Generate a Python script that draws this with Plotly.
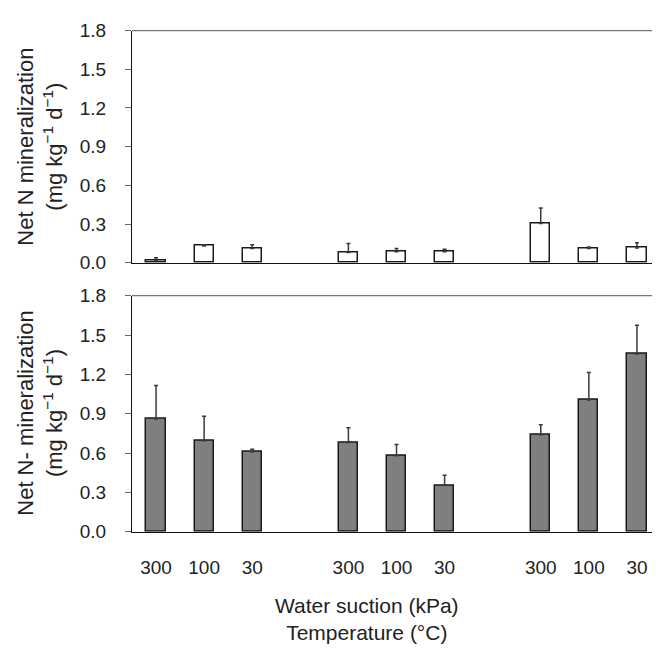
import plotly.graph_objects as go
from plotly.subplots import make_subplots

# Data -----------------------------------------------------------
suction = ["300", "100", "30"]          # water suction (kPa), repeated per temperature group
n_groups = 3

top_mean = [0.02, 0.13, 0.11, 0.08, 0.085, 0.085, 0.305, 0.11, 0.115]
top_err = [0.02, 0.01, 0.03, 0.07, 0.025, 0.02, 0.12, 0.012, 0.04]

bot_mean = [0.86, 0.695, 0.61, 0.68, 0.58, 0.355, 0.74, 1.005, 1.355]
bot_err = [0.255, 0.185, 0.02, 0.113, 0.085, 0.076, 0.076, 0.21, 0.22]

# Layout helpers -------------------------------------------------
W, H = 660, 648
FONT = "Liberation Sans, Arial, sans-serif"
TXT = "#222222"

# one empty slot between temperature groups
xpos = [g * (len(suction) + 1) + j for g in range(n_groups) for j in range(len(suction))]
xlabels = suction * n_groups


def px_x(p):
    return p / W


def px_y(p):
    return 1 - p / H


fig = make_subplots(rows=2, cols=1)

bar_style = dict(width=0.4, marker_line_color="#1a1a1a", marker_line_width=1.5, showlegend=False)
err_style = dict(type="data", symmetric=False, color="#3a3a3a", thickness=1.5, width=2)

fig.add_trace(go.Bar(x=xpos, y=top_mean, marker_color="white",
                     error_y=dict(array=top_err, arrayminus=[0] * len(top_err), **err_style),
                     **bar_style), row=1, col=1)
fig.add_trace(go.Bar(x=xpos, y=bot_mean, marker_color="#7f7f80",
                     error_y=dict(array=bot_err, arrayminus=[0] * len(bot_err), **err_style),
                     **bar_style), row=2, col=1)

xdom = [px_x(124), px_x(653)]
ydom_top = [px_y(253), px_y(13)]
ydom_bot = [px_y(531), px_y(287)]

yax = dict(range=[0, 1.8], tickvals=[0, 0.3, 0.6, 0.9, 1.2, 1.5, 1.8], tickformat=".1f",
           ticks="outside", ticklen=6, tickcolor="#666666", showline=True, linecolor="#111111",
           linewidth=1.2, showgrid=False, zeroline=False, ticklabelstandoff=15,
           tickfont=dict(family=FONT, size=19, color=TXT))

fig.update_layout(
    width=W, height=H,
    margin=dict(l=0, r=0, t=0, b=0),
    paper_bgcolor="white", plot_bgcolor="white",
    bargap=0,
    xaxis=dict(domain=xdom, range=[-0.5, 10.5], showticklabels=False, ticks="",
               showline=True, linecolor="#111111", linewidth=1.2, showgrid=False, zeroline=False),
    xaxis2=dict(domain=xdom, range=[-0.5, 10.5], tickvals=xpos, ticktext=xlabels,
                ticks="outside", ticklen=18, tickcolor="rgba(0,0,0,0)",
                tickfont=dict(family=FONT, size=19, color=TXT),
                showline=True, linecolor="#111111", linewidth=1.2, showgrid=False, zeroline=False),
    yaxis=dict(domain=ydom_top, **yax),
    yaxis2=dict(domain=ydom_bot, **yax),
)

# grey top/right frame lines of both panels
for dom in (ydom_top, ydom_bot):
    fig.add_shape(type="line", xref="paper", yref="paper", x0=xdom[0], x1=xdom[1], y0=dom[1], y1=dom[1],
                  line=dict(color="#777777", width=1.2))
    fig.add_shape(type="line", xref="paper", yref="paper", x0=xdom[1], x1=xdom[1], y0=dom[0], y1=dom[1],
                  line=dict(color="#777777", width=1.2))

# y-axis titles
ytitles = [
    ("Net N mineralization<br>(mg kg<sup>−1</sup> d<sup>−1</sup>)", ydom_top),
    ("Net N- mineralization<br>(mg kg<sup>−1</sup> d<sup>−1</sup>)", ydom_bot),
]
for txt, dom in ytitles:
    fig.add_annotation(text=txt, xref="paper", yref="paper", x=px_x(32), y=(dom[0] + dom[1]) / 2,
                       textangle=-90, showarrow=False, xanchor="center", yanchor="middle",
                       font=dict(family=FONT, size=22, color=TXT))

# x-axis title block
fig.add_annotation(text="Water suction (kPa)<br>Temperature (°C)", xref="paper", yref="paper",
                   x=px_x(359), y=px_y(621), showarrow=False, xanchor="center", yanchor="middle",
                   font=dict(family=FONT, size=21, color=TXT))

fig.write_html("out.html")
